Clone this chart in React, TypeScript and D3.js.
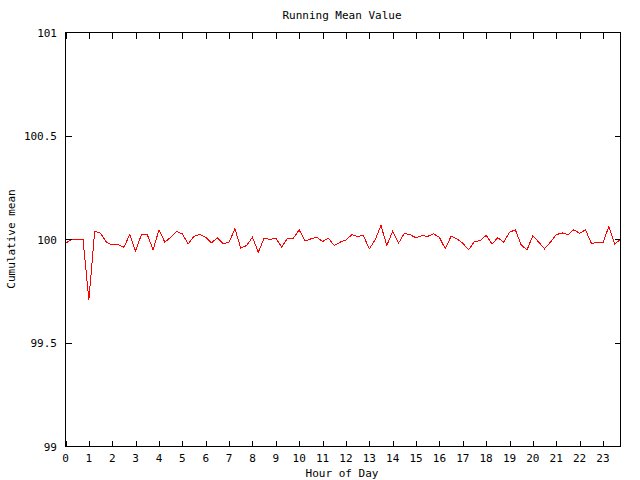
import React from "react";
import * as d3 from "d3";

const hours: number[] = Array.from({ length: 96 }, (_, i) => i * 0.25);
const meanValues: number[] = [
  99.982, 100.0, 100.0, 100.0, 99.709, 100.04, 100.03, 99.987, 99.974, 99.976, 99.963, 100.024,
  99.944, 100.024, 100.024, 99.95, 100.047, 99.987, 100.011, 100.039, 100.027, 99.979, 100.015, 100.024,
  100.011, 99.984, 100.008, 99.979, 99.987, 100.052, 99.958, 99.971, 100.011, 99.939, 100.006, 100.0,
  100.006, 99.963, 100.006, 100.006, 100.047, 99.992, 100.003, 100.011, 99.99, 100.006, 99.971, 99.987,
  99.998, 100.023, 100.015, 100.019, 99.955, 99.998, 100.068, 99.971, 100.04, 99.982, 100.03, 100.023,
  100.008, 100.019, 100.015, 100.027, 100.011, 99.955, 100.016, 100.003, 99.982, 99.95, 99.99, 99.995,
  100.02, 99.979, 100.008, 99.987, 100.035, 100.047, 99.974, 99.95, 100.019, 99.987, 99.955, 99.987,
  100.023, 100.032, 100.023, 100.047, 100.03, 100.047, 99.982, 99.984, 99.984, 100.063, 99.979, 100.0,
];
const xTicks: number[] = d3.range(0, 24);
const yTicks: number[] = [99, 99.5, 100, 100.5, 101];

const title = "Running Mean Value";
const xLabel = "Hour of Day";
const yLabel = "Cumulative mean";

export default function App() {
  const W = 640, H = 480;
  const left = 65.5, right = 620.5, top = 32.5, bottom = 446.5;
  const x = d3.scaleLinear().domain([0, 23.75]).range([left, right]);
  const y = d3.scaleLinear().domain([99, 101]).range([bottom, top]);
  const line = d3.line<number>().x((_, i) => x(hours[i])).y((d) => y(d));
  const font = "'DejaVu Sans Mono', monospace";
  const fs = 11;
  const tl = 6;
  return (
    <div style={{ position: "absolute", left: 0, top: 0 }}>
      <svg width={W} height={H} style={{ display: "block", background: "#fff" }}>
        <rect x={0} y={0} width={W} height={H} fill="#fff" />
        <path d={line(meanValues) || ""} fill="none" stroke="#ff0000" strokeWidth={1} shapeRendering="crispEdges" />
        <g stroke="#000" strokeWidth={1} shapeRendering="crispEdges">
          <rect x={left} y={top} width={right - left} height={bottom - top} fill="none" />
          {xTicks.map((t) => (
            <g key={"xt" + t}>
              <line x1={Math.round(x(t)) + 0.5} x2={Math.round(x(t)) + 0.5} y1={bottom} y2={bottom - tl} />
              <line x1={Math.round(x(t)) + 0.5} x2={Math.round(x(t)) + 0.5} y1={top} y2={top + tl} />
            </g>
          ))}
          {yTicks.map((t) => (
            <g key={"yt" + t}>
              <line x1={left} x2={left + tl} y1={y(t)} y2={y(t)} />
              <line x1={right} x2={right - tl} y1={y(t)} y2={y(t)} />
            </g>
          ))}
        </g>
        <g fontFamily={font} fontSize={fs} fill="#000">
          {xTicks.map((t) => (
            <text key={"xl" + t} x={x(t)} y={462} textAnchor="middle">{String(t)}</text>
          ))}
          {yTicks.map((t) => (
            <text key={"yl" + t} x={57} y={y(t) + 4} textAnchor="end">{String(t)}</text>
          ))}
          <text x={342} y={19} textAnchor="middle">{title}</text>
          <text x={342} y={477} textAnchor="middle">{xLabel}</text>
          <text transform={`translate(15,239) rotate(-90)`} textAnchor="middle">{yLabel}</text>
        </g>
      </svg>
    </div>
  );
}
